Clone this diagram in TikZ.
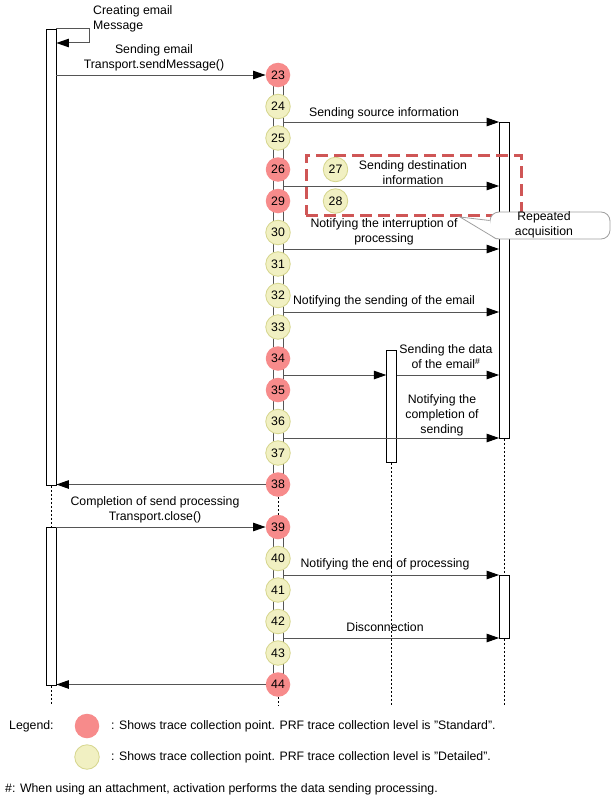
\documentclass[tikz,border=0pt]{standalone}
\usepackage{fontspec}
\setmainfont{Liberation Sans}
\usetikzlibrary{arrows.meta}
\definecolor{redpt}{HTML}{F78B8B}
\definecolor{yelpt}{HTML}{F1F0C2}
\definecolor{yelbd}{HTML}{D6D68E}
\definecolor{dashred}{HTML}{CF5656}
\definecolor{linegray}{HTML}{555555}
\definecolor{callgray}{HTML}{A0A0A0}
\begin{document}
\begin{tikzpicture}[x=1pt,y=-1pt,
  txt/.style={font=\fontsize{12.3}{15}\selectfont},
  tp/.style={circle, minimum size=24.5pt, inner sep=0pt, txt},
  stdpt/.style={tp, fill=redpt},
  detpt/.style={tp, fill=yelpt, draw=yelbd, line width=0.8pt},
  act/.style={draw=black, fill=white, minimum width=10pt, inner sep=0pt, anchor=north, line width=0.8pt},
  dbl/.style={draw=linegray, fill=white, minimum width=10pt, inner sep=0pt, anchor=north, line width=1pt},
  msg/.style={draw=linegray, line width=1pt, -{Triangle[length=12.5pt,width=8.5pt,color=black]}},
  lbl/.style={txt, align=center, inner sep=0pt},
  life/.style={black, line width=0.7pt, dash pattern=on 2pt off 2pt}]
\useasboundingbox (0,0) rectangle (613,800);
\fill[white] (0,0) rectangle (613,800);

% end points of lifelines
\coordinate (Lend) at (51,705);
\coordinate (Pend) at (278,705);
\coordinate (Mend) at (391.5,705);
\coordinate (Rend) at (504.5,705);

% activation boxes
\node[act, minimum height=456pt] (L1) at (51,29) {};
\node[act, minimum height=158pt] (L2) at (51,527) {};
\node[dbl, minimum height=410pt] (P1) at (278,75) {};
\node[dbl, minimum height=158pt] (P2) at (278,527) {};
\node[act, minimum width=9.5pt, minimum height=112pt] (M) at (391.5,350) {};
\node[act, minimum height=316pt] (R1) at (504.5,122) {};
\node[act, minimum height=63pt] (R2) at (504.5,575) {};

% trace points
\node[stdpt] (c23) at (278,75) {23};
\node[detpt] (c24) at (278,106.5) {24};
\node[detpt] (c25) at (278,138) {25};
\node[stdpt] (c26) at (278,169.5) {26};
\node[stdpt] (c29) at (278,201) {29};
\node[detpt] (c30) at (278,232.5) {30};
\node[detpt] (c31) at (278,264) {31};
\node[detpt] (c32) at (278,295.5) {32};
\node[detpt] (c33) at (278,327) {33};
\node[stdpt] (c34) at (278,358.5) {34};
\node[stdpt] (c35) at (278,390) {35};
\node[detpt] (c36) at (278,421.5) {36};
\node[detpt] (c37) at (278,453) {37};
\node[stdpt] (c38) at (278,484.5) {38};
\node[stdpt] (c39) at (278,527) {39};
\node[detpt] (c40) at (278,558.5) {40};
\node[detpt] (c41) at (278,590) {41};
\node[detpt] (c42) at (278,621.5) {42};
\node[detpt] (c43) at (278,653) {43};
\node[stdpt] (c44) at (278,684.5) {44};
\node[detpt] (c27) at (335.5,169.5) {27};
\node[detpt] (c28) at (335.5,201) {28};

% dotted lifelines
\draw[life] (L1.south) -- (L2.north);
\draw[life] (L2.south) -- (Lend);
\draw[life] (c38.south) -- (c39.north);
\draw[life] (c44.south) -- (Pend);
\draw[life] (M.south) -- (Mend);
\draw[life] (R1.south) -- (R2.north);
\draw[life] (R2.south) -- (Rend);

% messages
\draw[msg] (L1.north east) -- (89,29) -- (89,43) -- (L1.east |- 0,43);
\node[lbl, anchor=west, align=left] (t0) at (93,18.5) {Creating email\\Message};

\draw[msg] (L1.east |- c23) -- (c23.west);
\node[lbl] (t1) at (154,57.5) {Sending email\\Transport.sendMessage()};

\draw[msg] (P1.east |- 0,122) -- (R1.west |- 0,122);
\node[lbl] (t2) at (384,113) {Sending source information};

\draw[msg] (P1.east |- 0,186) -- (R1.west |- 0,186);
\node[lbl] (t3) at (413,172.5) {Sending destination\\information};

\draw[msg] (P1.east |- 0,249) -- (R1.west |- 0,249);
\node[lbl] (t4) at (384,231.5) {Notifying the interruption of\\processing};

\draw[msg] (P1.east |- 0,312) -- (R1.west |- 0,312);
\node[lbl] (t5) at (384,301) {Notifying the sending of the email};

\draw[msg] (P1.east |- 0,375) -- (M.west |- 0,375);
\draw[msg] (M.east |- 0,375) -- (R1.west |- 0,375);
\node[lbl] (t6) at (446,357) {Sending the data\\of the email\textsuperscript{\#}};

\draw[msg] (P1.east |- 0,438) -- (R1.west |- 0,438);
\node[lbl] (t7) at (442,415) {Notifying the\\completion of\\sending};

\draw[msg] (c38.west) -- (L1.east |- c38);

\draw[msg] (L2.east |- c39) -- (c39.west);
\node[lbl] (t8) at (155,510) {Completion of send processing\\Transport.close()};

\draw[msg] (P2.east |- 0,575) -- (R2.west |- 0,575);
\node[lbl] (t9) at (385,564) {Notifying the end of processing};

\draw[msg] (P2.east |- 0,638) -- (R2.west |- 0,638);
\node[lbl] (t10) at (385,627) {Disconnection};

\draw[msg] (c44.west) -- (L2.east |- c44);

% repeated acquisition frame and callout
\node[draw=dashred, line width=3pt, dash pattern=on 12pt off 6pt, minimum width=215pt, minimum height=60pt, inner sep=0pt] (rep) at (413.5,185) {};
\node[draw=callgray, fill=white, rounded corners=9pt, minimum width=120pt, minimum height=27pt, inner sep=0pt, line width=0.8pt] (cb) at (550,225.5) {};
\coordinate (tip) at (460,217);
\draw[callgray, fill=white, line width=0.8pt] ([yshift=5pt]cb.west) -- (tip) -- ([xshift=7pt,yshift=0.4pt]cb.south west);
\node[lbl] (cbt) at (544,225) {Repeated\\acquisition};

% legend
\node[txt, anchor=west, inner sep=0pt] (lg) at (9,726) {Legend:};
\node[tp, fill=redpt] (lr) at (87,726) {};
\node[tp, fill=yelpt, draw=yelbd, line width=0.8pt] (ly) at (87,757) {};
\node[txt, anchor=west, inner sep=0pt] (lrt) at (111,726) {: Shows trace collection point. PRF trace collection level is "Standard".};
\node[txt, anchor=west, inner sep=0pt] (lyt) at (111,757) {: Shows trace collection point. PRF trace collection level is "Detailed".};
\node[txt, anchor=west, inner sep=0pt] (fn) at (5,789) {\#: When using an attachment, activation performs the data sending processing.};
\end{tikzpicture}
\end{document}
